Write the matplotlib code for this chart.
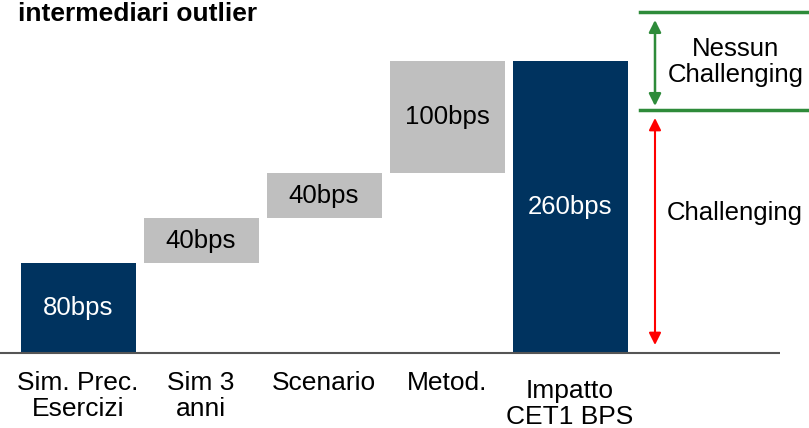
import matplotlib
matplotlib.use("Agg")
import matplotlib.pyplot as plt
import numpy as np

# Waterfall of CET1 impact (bps)
categories = ["Sim. Prec.\nEsercizi", "Sim 3\nanni", "Scenario", "Metod.", "Impatto\nCET1 BPS"]
values = [80, 40, 40, 100, 260]
is_total = [True, False, False, False, True]
title = "intermediari outlier"

NAVY = "#00335F"
GRAY = "#BFBFBF"
GREEN = "#2E8B3A"
RED = "#FF0000"

W, H, DPI = 809, 428, 100
fig = plt.figure(figsize=(W / DPI, H / DPI), dpi=DPI)

# axes spanning the width; bars centred every 123 px starting at 78 px
x0_px, step_px = 78, 123
xmin = (0 - x0_px) / step_px
xmax = (W - x0_px) / step_px
base_px, top_px = 353, 61
ax = fig.add_axes([0, (H - base_px) / H, 1, (base_px - top_px) / H])
ax.set_xlim(xmin, xmax)
ax.set_ylim(0, 260)
ax.axis("off")

# waterfall bottoms: totals start at zero, steps stack on the running sum
bottoms = []
running = 0
for v, tot in zip(values, is_total):
    if tot:
        bottoms.append(0)
        running = v
    else:
        bottoms.append(running)
        running += v

x = np.arange(len(values))
colors = [NAVY if t else GRAY for t in is_total]
ax.bar(x, values, bottom=bottoms, width=115 / step_px, color=colors, linewidth=0, clip_on=False)

value_font = dict(family=["Liberation Sans", "DejaVu Sans"], size=18.5)
for xi, v, b, t in zip(x, values, bottoms, is_total):
    ax.text(xi, b + v / 2, f"{v}bps", ha="center", va="center",
            color="white" if t else "black", **value_font)

# baseline
ax.plot([xmin, (780 - x0_px) / step_px], [0, 0], color="#555555", lw=1.5,
        clip_on=False, solid_capstyle="butt")

# category labels below the baseline (the total's label sits a little lower)
cat_font = dict(family=["Liberation Sans", "DejaVu Sans"], size=19)
for xi, lab, t in zip(x, categories, is_total):
    dy = -19 if (t and xi == x[-1]) else -13
    ax.annotate(lab, xy=(xi, 0), xycoords="data", xytext=(0, dy),
                textcoords="offset points", ha="center", va="top",
                linespacing=1.1, **cat_font)

# title
fig.text(18 / W, (H - 21) / H, title, ha="left", va="baseline",
         family=["Liberation Sans", "DejaVu Sans"], weight="bold", size=19)

# right-hand range annotations (figure pixel coordinates)
def fx(px):
    return px / W

def fy(py):
    return (H - py) / H

for py in (12, 110):
    fig.add_artist(plt.Line2D([fx(640), fx(809)], [fy(py), fy(py)],
                              color=GREEN, lw=2.5, transform=fig.transFigure))

fig.add_artist(matplotlib.patches.FancyArrowPatch(
    (fx(655), fy(20)), (fx(655), fy(106)), transform=fig.transFigure,
    arrowstyle="<|-|>", mutation_scale=18, color=GREEN, lw=1.8,
    shrinkA=0, shrinkB=0))
fig.add_artist(matplotlib.patches.FancyArrowPatch(
    (fx(655), fy(118)), (fx(655), fy(345)), transform=fig.transFigure,
    arrowstyle="<|-|>", mutation_scale=18, color=RED, lw=1.5,
    shrinkA=0, shrinkB=0))

ann_font = dict(family=["Liberation Sans", "DejaVu Sans"], size=18.5)
fig.text(fx(736), fy(62), "Nessun\nChallenging", ha="center", va="center",
         linespacing=1.1, **ann_font)
fig.text(fx(735), fy(213), "Challenging", ha="center", va="center", **ann_font)

fig.savefig("out.png", dpi=DPI)
